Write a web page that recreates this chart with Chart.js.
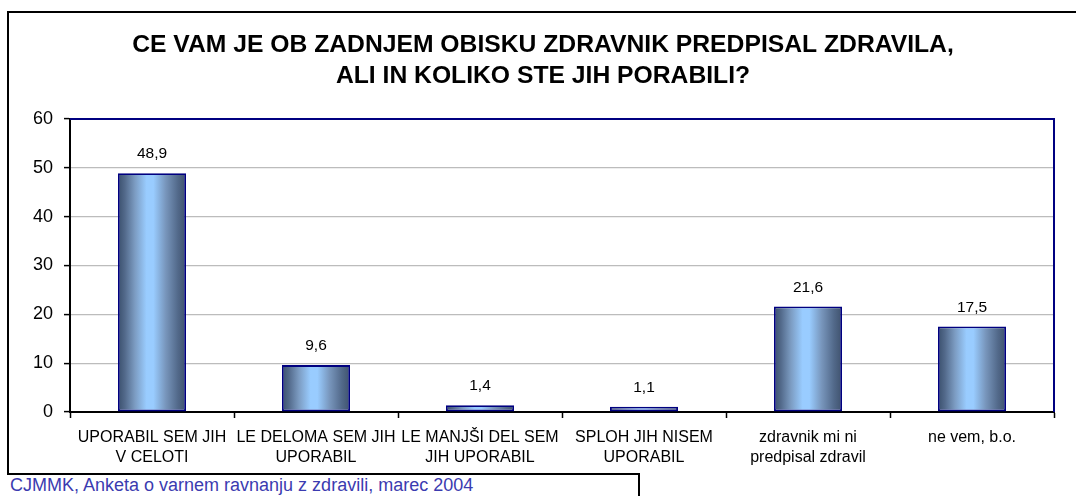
<!DOCTYPE html>
<html>
<head>
<meta charset="utf-8">
<script src="https://cdn.jsdelivr.net/npm/chart.js@4/dist/chart.umd.min.js"></script>
<style>
  body { margin: 0; background: #fff; }
  #wrap { position: relative; width: 1076px; height: 496px; overflow: hidden; background: #fff; }
  #frame { position: absolute; left: 7px; top: 11px; width: 1200px; height: 600px; border-left: 2px solid #000; border-top: 2px solid #000; }
  canvas { position: absolute; left: 0; top: 0; }
  #note { position: absolute; left: 7px; top: 473px; width: 628px; height: 40px; border-top: 2px solid #000; border-right: 2px solid #000; background: #fff;
          color: #3b3bb0; font: 18px "Liberation Sans", Arial, sans-serif; line-height: 20px; padding-left: 3px; white-space: nowrap; }
</style>
</head>
<body>
<div id="wrap">
  <div id="frame"></div>
  <canvas id="c" width="1076" height="496"></canvas>
  <div id="note">CJMMK, Anketa o varnem ravnanju z zdravili, marec 2004</div>
</div>
<script>
const titleLines = ["CE VAM JE OB ZADNJEM OBISKU ZDRAVNIK PREDPISAL ZDRAVILA,", "ALI IN KOLIKO STE JIH PORABILI?"];
const categories = [
  ["UPORABIL SEM JIH", "V CELOTI"],
  ["LE DELOMA SEM JIH", "UPORABIL"],
  ["LE MANJŠI DEL SEM", "JIH UPORABIL"],
  ["SPLOH JIH NISEM", "UPORABIL"],
  ["zdravnik mi ni", "predpisal zdravil"],
  ["ne vem, b.o."]
];
const values = [48.9, 9.6, 1.4, 1.1, 21.6, 17.5];
const yTicks = [0, 10, 20, 30, 40, 50, 60];

const FONT = '"Liberation Sans", Arial, sans-serif';
Chart.defaults.font.family = FONT;
Chart.defaults.color = '#000';

const BAR_PCT = 0.415;

function barGradient(ctx) {
  const ch = ctx.chart;
  const xs = ch.scales && ch.scales.x;
  if (!xs || ctx.type !== 'data' || !isFinite(xs.width) || xs.width <= 0) return '#99ccff';
  const cx = xs.getPixelForValue(ctx.dataIndex);
  const w = (xs.width / categories.length) * BAR_PCT;
  const g = ch.ctx.createLinearGradient(cx - w / 2, 0, cx + w / 2, 0);
  g.addColorStop(0, '#3a506d');
  g.addColorStop(0.1, '#52698a');
  g.addColorStop(0.25, '#7c9cc2');
  g.addColorStop(0.42, '#99ccff');
  g.addColorStop(0.52, '#99ccff');
  g.addColorStop(0.7, '#7896bc');
  g.addColorStop(0.88, '#52698a');
  g.addColorStop(1, '#3f526d');
  return g;
}

const valueLabels = {
  id: 'valueLabels',
  afterDatasetsDraw(chart) {
    const ctx = chart.ctx;
    const meta = chart.getDatasetMeta(0);
    ctx.save();
    ctx.font = '15.5px ' + FONT;
    ctx.fillStyle = '#000';
    ctx.textAlign = 'center';
    ctx.textBaseline = 'alphabetic';
    meta.data.forEach((el, i) => {
      ctx.fillText(values[i].toFixed(1).replace('.', ','), el.x, el.y - 15);
    });
    ctx.restore();
  }
};

const plotFrame = {
  id: 'plotFrame',
  afterDraw(chart) {
    const a = chart.chartArea;
    const ctx = chart.ctx;
    ctx.save();
    ctx.strokeStyle = '#000080';
    ctx.lineWidth = 2;
    ctx.beginPath();
    ctx.moveTo(a.left, a.top);
    ctx.lineTo(a.right, a.top);
    ctx.lineTo(a.right, a.bottom);
    ctx.stroke();
    ctx.restore();
  }
};

new Chart(document.getElementById('c'), {
  type: 'bar',
  data: {
    labels: categories,
    datasets: [{
      data: values,
      backgroundColor: barGradient,
      borderColor: '#000080',
      borderWidth: 1.8,
      borderSkipped: false,
      barPercentage: BAR_PCT,
      categoryPercentage: 1
    }]
  },
  options: {
    responsive: false,
    animation: false,
    layout: { padding: { left: 32, right: 22, top: 0, bottom: 0 } },
    plugins: {
      legend: { display: false },
      tooltip: { enabled: false },
      title: {
        display: true,
        text: titleLines,
        color: '#000',
        font: { family: FONT, size: 24.7, weight: 'bold', lineHeight: 1.255 },
        padding: { top: 30, bottom: 27 }
      }
    },
    scales: {
      x: {
        offset: true,
        grid: { offset: true, drawOnChartArea: false, drawTicks: true, tickLength: 6, tickColor: '#000', tickWidth: 1.5 },
        border: { color: '#000', width: 2 },
        ticks: { font: { size: 16, lineHeight: 1.25 }, color: '#000', padding: 10, maxRotation: 0, minRotation: 0, autoSkip: false },
        afterFit(scale) { scale.height = 84; }
      },
      y: {
        min: 0,
        max: 60,
        afterBuildTicks(scale) { scale.ticks = yTicks.map(v => ({ value: v })); },
        grid: {
          color: (c) => (c.tick && c.tick.value === 60) ? 'rgba(0,0,0,0)' : '#bcbcbc',
          lineWidth: 1.2,
          tickLength: 6,
          tickColor: '#000',
          tickWidth: 1.5
        },
        border: { color: '#000', width: 2 },
        ticks: { font: { size: 18 }, color: '#000', padding: 11 },
        afterFit(scale) { scale.width = 38; }
      }
    }
  },
  plugins: [valueLabels, plotFrame]
});
</script>
</body>
</html>
